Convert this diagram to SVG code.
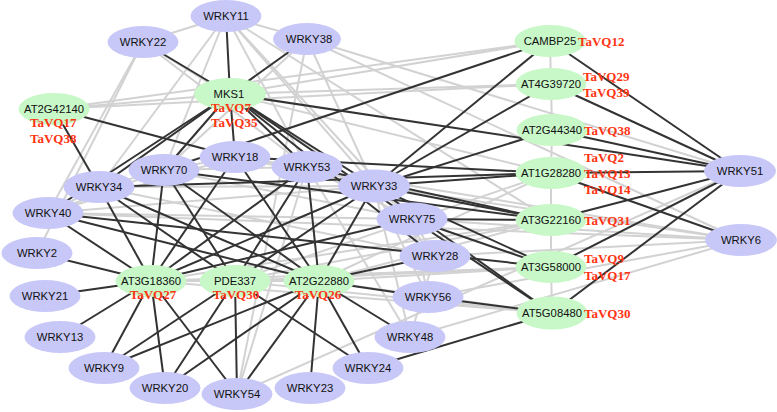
<svg xmlns="http://www.w3.org/2000/svg" width="777" height="412" viewBox="0 0 777 412">
<style>
.l{stroke:#d2d2d2;stroke-width:2;fill:none}
.d{stroke:#333;stroke-width:2;fill:none}
.w{fill:#c8c8f8}
.g{fill:#c8f8c8}
.t{font-family:"Liberation Sans",Arial,sans-serif;font-size:11.3px;fill:#111;text-anchor:middle}
.r{font-family:"Liberation Serif","Times New Roman",serif;font-size:13px;font-weight:bold;fill:#ff3311}
</style>
<rect width="777" height="412" fill="#fff"/>
<g id="connectors">
<g id="light-edges">
<line class="l" x1="226" y1="16" x2="143" y2="42"/>
<line class="l" x1="226" y1="16" x2="307" y2="39"/>
<line class="l" x1="226" y1="16" x2="307" y2="167"/>
<line class="l" x1="226" y1="16" x2="374" y2="186"/>
<line class="l" x1="226" y1="16" x2="164" y2="170"/>
<line class="l" x1="226" y1="16" x2="99" y2="187"/>
<line class="l" x1="226" y1="16" x2="412" y2="219"/>
<line class="l" x1="226" y1="16" x2="551" y2="220"/>
<line class="l" x1="143" y1="42" x2="37" y2="253"/>
<line class="l" x1="143" y1="42" x2="48" y2="213"/>
<line class="l" x1="143" y1="42" x2="307" y2="167"/>
<line class="l" x1="143" y1="42" x2="374" y2="186"/>
<line class="l" x1="307" y1="39" x2="237" y2="394"/>
<line class="l" x1="307" y1="39" x2="99" y2="187"/>
<line class="l" x1="307" y1="39" x2="164" y2="170"/>
<line class="l" x1="307" y1="39" x2="374" y2="186"/>
<line class="l" x1="307" y1="39" x2="741" y2="240"/>
<line class="l" x1="307" y1="39" x2="740" y2="171"/>
<line class="l" x1="235" y1="157" x2="307" y2="167"/>
<line class="l" x1="235" y1="157" x2="164" y2="170"/>
<line class="l" x1="235" y1="157" x2="48" y2="213"/>
<line class="l" x1="235" y1="157" x2="374" y2="186"/>
<line class="l" x1="235" y1="157" x2="741" y2="240"/>
<line class="l" x1="164" y1="170" x2="99" y2="187"/>
<line class="l" x1="164" y1="170" x2="307" y2="167"/>
<line class="l" x1="164" y1="170" x2="412" y2="219"/>
<line class="l" x1="164" y1="170" x2="48" y2="213"/>
<line class="l" x1="99" y1="187" x2="48" y2="213"/>
<line class="l" x1="99" y1="187" x2="374" y2="186"/>
<line class="l" x1="99" y1="187" x2="435" y2="256"/>
<line class="l" x1="48" y1="213" x2="374" y2="186"/>
<line class="l" x1="48" y1="213" x2="412" y2="219"/>
<line class="l" x1="48" y1="213" x2="741" y2="240"/>
<line class="l" x1="307" y1="167" x2="374" y2="186"/>
<line class="l" x1="307" y1="167" x2="412" y2="219"/>
<line class="l" x1="307" y1="167" x2="410" y2="337"/>
<line class="l" x1="307" y1="167" x2="237" y2="394"/>
<line class="l" x1="374" y1="186" x2="412" y2="219"/>
<line class="l" x1="374" y1="186" x2="741" y2="240"/>
<line class="l" x1="374" y1="186" x2="435" y2="256"/>
<line class="l" x1="374" y1="186" x2="410" y2="337"/>
<line class="l" x1="374" y1="186" x2="428" y2="297"/>
<line class="l" x1="412" y1="219" x2="741" y2="240"/>
<line class="l" x1="412" y1="219" x2="435" y2="256"/>
<line class="l" x1="412" y1="219" x2="428" y2="297"/>
<line class="l" x1="435" y1="256" x2="741" y2="240"/>
<line class="l" x1="428" y1="297" x2="741" y2="240"/>
<line class="l" x1="410" y1="337" x2="741" y2="240"/>
<line class="l" x1="237" y1="394" x2="740" y2="171"/>
<line class="l" x1="435" y1="256" x2="410" y2="337"/>
<line class="l" x1="54" y1="109" x2="230" y2="94"/>
<line class="l" x1="54" y1="109" x2="550" y2="41"/>
<line class="l" x1="54" y1="109" x2="551" y2="84"/>
<line class="l" x1="230" y1="94" x2="550" y2="41"/>
<line class="l" x1="230" y1="94" x2="551" y2="84"/>
<line class="l" x1="230" y1="94" x2="551" y2="173"/>
<line class="l" x1="550" y1="41" x2="551" y2="84"/>
<line class="l" x1="551" y1="84" x2="552" y2="130"/>
<line class="l" x1="552" y1="130" x2="551" y2="173"/>
<line class="l" x1="551" y1="173" x2="551" y2="220"/>
<line class="l" x1="551" y1="220" x2="551" y2="267"/>
<line class="l" x1="551" y1="267" x2="552" y2="313"/>
<line class="l" x1="151" y1="281" x2="235" y2="281"/>
<line class="l" x1="235" y1="281" x2="319" y2="281"/>
<line class="l" x1="151" y1="281" x2="551" y2="220"/>
<line class="l" x1="151" y1="281" x2="551" y2="267"/>
<line class="l" x1="151" y1="281" x2="552" y2="313"/>
<line class="l" x1="235" y1="281" x2="551" y2="220"/>
<line class="l" x1="235" y1="281" x2="551" y2="267"/>
<line class="l" x1="235" y1="281" x2="552" y2="313"/>
<line class="l" x1="235" y1="281" x2="551" y2="173"/>
<line class="l" x1="319" y1="281" x2="551" y2="220"/>
<line class="l" x1="319" y1="281" x2="551" y2="267"/>
<line class="l" x1="319" y1="281" x2="552" y2="313"/>
<line class="l" x1="319" y1="281" x2="551" y2="173"/>
</g>
<g id="dark-edges">
<line class="d" x1="230" y1="94" x2="226" y2="16"/>
<line class="d" x1="230" y1="94" x2="143" y2="42"/>
<line class="d" x1="230" y1="94" x2="307" y2="39"/>
<line class="d" x1="230" y1="94" x2="740" y2="171"/>
<line class="d" x1="230" y1="94" x2="99" y2="187"/>
<line class="d" x1="230" y1="94" x2="48" y2="213"/>
<line class="d" x1="230" y1="94" x2="164" y2="170"/>
<line class="d" x1="230" y1="94" x2="235" y2="157"/>
<line class="d" x1="230" y1="94" x2="307" y2="167"/>
<line class="d" x1="230" y1="94" x2="374" y2="186"/>
<line class="d" x1="230" y1="94" x2="412" y2="219"/>
<line class="d" x1="230" y1="94" x2="435" y2="256"/>
<line class="d" x1="54" y1="109" x2="99" y2="187"/>
<line class="d" x1="54" y1="109" x2="235" y2="157"/>
<line class="d" x1="550" y1="41" x2="374" y2="186"/>
<line class="d" x1="550" y1="41" x2="164" y2="170"/>
<line class="d" x1="550" y1="41" x2="740" y2="171"/>
<line class="d" x1="551" y1="84" x2="374" y2="186"/>
<line class="d" x1="551" y1="84" x2="740" y2="171"/>
<line class="d" x1="552" y1="130" x2="740" y2="171"/>
<line class="d" x1="552" y1="130" x2="374" y2="186"/>
<line class="d" x1="551" y1="173" x2="740" y2="171"/>
<line class="d" x1="551" y1="173" x2="741" y2="240"/>
<line class="d" x1="551" y1="173" x2="374" y2="186"/>
<line class="d" x1="551" y1="173" x2="235" y2="157"/>
<line class="d" x1="551" y1="173" x2="99" y2="187"/>
<line class="d" x1="551" y1="220" x2="740" y2="171"/>
<line class="d" x1="551" y1="220" x2="374" y2="186"/>
<line class="d" x1="551" y1="220" x2="412" y2="219"/>
<line class="d" x1="551" y1="220" x2="164" y2="170"/>
<line class="d" x1="551" y1="220" x2="307" y2="167"/>
<line class="d" x1="551" y1="267" x2="740" y2="171"/>
<line class="d" x1="551" y1="267" x2="374" y2="186"/>
<line class="d" x1="551" y1="267" x2="48" y2="213"/>
<line class="d" x1="551" y1="267" x2="412" y2="219"/>
<line class="d" x1="552" y1="313" x2="740" y2="171"/>
<line class="d" x1="552" y1="313" x2="374" y2="186"/>
<line class="d" x1="552" y1="313" x2="428" y2="297"/>
<line class="d" x1="552" y1="313" x2="368" y2="368"/>
<line class="d" x1="552" y1="313" x2="412" y2="219"/>
<line class="d" x1="151" y1="281" x2="37" y2="253"/>
<line class="d" x1="151" y1="281" x2="45" y2="296"/>
<line class="d" x1="151" y1="281" x2="60" y2="337"/>
<line class="d" x1="151" y1="281" x2="104" y2="368"/>
<line class="d" x1="151" y1="281" x2="165" y2="388"/>
<line class="d" x1="151" y1="281" x2="237" y2="394"/>
<line class="d" x1="151" y1="281" x2="48" y2="213"/>
<line class="d" x1="151" y1="281" x2="99" y2="187"/>
<line class="d" x1="151" y1="281" x2="164" y2="170"/>
<line class="d" x1="151" y1="281" x2="235" y2="157"/>
<line class="d" x1="151" y1="281" x2="374" y2="186"/>
<line class="d" x1="151" y1="281" x2="412" y2="219"/>
<line class="d" x1="151" y1="281" x2="307" y2="167"/>
<line class="d" x1="235" y1="281" x2="104" y2="368"/>
<line class="d" x1="235" y1="281" x2="165" y2="388"/>
<line class="d" x1="235" y1="281" x2="237" y2="394"/>
<line class="d" x1="235" y1="281" x2="368" y2="368"/>
<line class="d" x1="235" y1="281" x2="164" y2="170"/>
<line class="d" x1="235" y1="281" x2="99" y2="187"/>
<line class="d" x1="235" y1="281" x2="307" y2="167"/>
<line class="d" x1="235" y1="281" x2="374" y2="186"/>
<line class="d" x1="319" y1="281" x2="428" y2="297"/>
<line class="d" x1="319" y1="281" x2="410" y2="337"/>
<line class="d" x1="319" y1="281" x2="368" y2="368"/>
<line class="d" x1="319" y1="281" x2="310" y2="388"/>
<line class="d" x1="319" y1="281" x2="237" y2="394"/>
<line class="d" x1="319" y1="281" x2="165" y2="388"/>
<line class="d" x1="319" y1="281" x2="104" y2="368"/>
<line class="d" x1="319" y1="281" x2="435" y2="256"/>
<line class="d" x1="319" y1="281" x2="235" y2="157"/>
<line class="d" x1="319" y1="281" x2="307" y2="167"/>
<line class="d" x1="319" y1="281" x2="374" y2="186"/>
<line class="d" x1="319" y1="281" x2="164" y2="170"/>
<line class="d" x1="319" y1="281" x2="48" y2="213"/>
<line class="d" x1="319" y1="281" x2="99" y2="187"/>
</g>
</g>
<g id="WRKY11"><ellipse class="w" cx="226" cy="16" rx="35.5" ry="16"/><text class="t" x="226" y="20">WRKY11</text></g>
<g id="WRKY22"><ellipse class="w" cx="143" cy="42" rx="35.5" ry="16"/><text class="t" x="143" y="46">WRKY22</text></g>
<g id="WRKY38"><ellipse class="w" cx="307" cy="39" rx="34" ry="16"/><text class="t" x="309" y="43">WRKY38</text></g>
<g id="MKS1"><ellipse class="g" cx="230" cy="94" rx="36" ry="16"/><text class="t" x="229" y="98">MKS1</text><text class="r" x="211" y="111.5">TaVQ7</text><text class="r" x="211" y="126.5">TaVQ35</text></g>
<g id="AT2G42140"><ellipse class="g" cx="54" cy="109" rx="35.5" ry="16"/><text class="t" x="54" y="113">AT2G42140</text><text class="r" x="30" y="126.5">TaVQ17</text><text class="r" x="30" y="142.5">TaVQ38</text></g>
<g id="CAMBP25"><ellipse class="g" cx="550" cy="41" rx="35.5" ry="16"/><text class="t" x="550" y="45">CAMBP25</text><text class="r" x="578" y="45.5">TaVQ12</text></g>
<g id="AT4G39720"><ellipse class="g" cx="551" cy="84" rx="35.5" ry="16"/><text class="t" x="551" y="88">AT4G39720</text><text class="r" x="583" y="80.5">TaVQ29</text><text class="r" x="583" y="96.5">TaVQ39</text></g>
<g id="AT2G44340"><ellipse class="g" cx="552" cy="130" rx="35.5" ry="16"/><text class="t" x="552" y="134">AT2G44340</text><text class="r" x="584" y="134.5">TaVQ38</text></g>
<g id="AT1G28280"><ellipse class="g" cx="551" cy="173" rx="35.5" ry="16"/><text class="t" x="551" y="177">AT1G28280</text><text class="r" x="584" y="161.5">TaVQ2</text><text class="r" x="584" y="177.5">TaVQ13</text><text class="r" x="584" y="193.5">TaVQ14</text></g>
<g id="AT3G22160"><ellipse class="g" cx="551" cy="220" rx="35.5" ry="16"/><text class="t" x="551" y="224">AT3G22160</text><text class="r" x="584" y="224.5">TaVQ31</text></g>
<g id="AT3G58000"><ellipse class="g" cx="551" cy="267" rx="35.5" ry="16"/><text class="t" x="551" y="271">AT3G58000</text><text class="r" x="584" y="262.5">TaVQ9</text><text class="r" x="584" y="279.5">TaVQ17</text></g>
<g id="AT5G08480"><ellipse class="g" cx="552" cy="313" rx="35.5" ry="16.5"/><text class="t" x="552" y="317">AT5G08480</text><text class="r" x="584" y="317.5">TaVQ30</text></g>
<g id="WRKY51"><ellipse class="w" cx="740" cy="171" rx="36" ry="16"/><text class="t" x="740" y="175">WRKY51</text></g>
<g id="WRKY6"><ellipse class="w" cx="741" cy="240" rx="36" ry="16"/><text class="t" x="741" y="244">WRKY6</text></g>
<g id="WRKY18"><ellipse class="w" cx="235" cy="157" rx="35.5" ry="16"/><text class="t" x="235" y="161">WRKY18</text></g>
<g id="WRKY70"><ellipse class="w" cx="164" cy="170" rx="35.5" ry="16"/><text class="t" x="164" y="174">WRKY70</text></g>
<g id="WRKY34"><ellipse class="w" cx="99" cy="187" rx="35.5" ry="16"/><text class="t" x="99" y="191">WRKY34</text></g>
<g id="WRKY40"><ellipse class="w" cx="48" cy="213" rx="35.5" ry="16"/><text class="t" x="48" y="217">WRKY40</text></g>
<g id="WRKY2"><ellipse class="w" cx="37" cy="253" rx="35.5" ry="16"/><text class="t" x="37" y="257">WRKY2</text></g>
<g id="WRKY53"><ellipse class="w" cx="307" cy="167" rx="35.5" ry="16"/><text class="t" x="307" y="171">WRKY53</text></g>
<g id="WRKY33"><ellipse class="w" cx="374" cy="186" rx="36" ry="16.5"/><text class="t" x="374" y="190">WRKY33</text></g>
<g id="WRKY75"><ellipse class="w" cx="412" cy="219" rx="35.5" ry="16.5"/><text class="t" x="412" y="223">WRKY75</text></g>
<g id="WRKY28"><ellipse class="w" cx="435" cy="256" rx="35.5" ry="16"/><text class="t" x="435" y="260">WRKY28</text></g>
<g id="WRKY56"><ellipse class="w" cx="428" cy="297" rx="35.5" ry="16"/><text class="t" x="428" y="301">WRKY56</text></g>
<g id="WRKY21"><ellipse class="w" cx="45" cy="296" rx="35.5" ry="16"/><text class="t" x="45" y="300">WRKY21</text></g>
<g id="WRKY13"><ellipse class="w" cx="60" cy="337" rx="35.5" ry="16"/><text class="t" x="60" y="341">WRKY13</text></g>
<g id="WRKY9"><ellipse class="w" cx="104" cy="368" rx="35.5" ry="16"/><text class="t" x="104" y="372">WRKY9</text></g>
<g id="WRKY20"><ellipse class="w" cx="165" cy="388" rx="35.5" ry="16"/><text class="t" x="165" y="392">WRKY20</text></g>
<g id="WRKY54"><ellipse class="w" cx="237" cy="394" rx="35.5" ry="16"/><text class="t" x="237" y="398">WRKY54</text></g>
<g id="WRKY23"><ellipse class="w" cx="310" cy="388" rx="35.5" ry="16"/><text class="t" x="310" y="392">WRKY23</text></g>
<g id="WRKY24"><ellipse class="w" cx="368" cy="368" rx="35.5" ry="16"/><text class="t" x="368" y="372">WRKY24</text></g>
<g id="WRKY48"><ellipse class="w" cx="410" cy="337" rx="35.5" ry="16"/><text class="t" x="410" y="341">WRKY48</text></g>
<g id="AT3G18360"><ellipse class="g" cx="151" cy="281" rx="35.5" ry="16"/><text class="t" x="151" y="285">AT3G18360</text><text class="r" x="153" y="298.5" text-anchor="middle">TaVQ27</text></g>
<g id="PDE337"><ellipse class="g" cx="235" cy="281" rx="35.5" ry="16"/><text class="t" x="235" y="285">PDE337</text><text class="r" x="236" y="298.5" text-anchor="middle">TaVQ30</text></g>
<g id="AT2G22880"><ellipse class="g" cx="319" cy="281" rx="35.5" ry="16"/><text class="t" x="319" y="285">AT2G22880</text><text class="r" x="318" y="298.5" text-anchor="middle">TaVQ26</text></g>
</svg>
